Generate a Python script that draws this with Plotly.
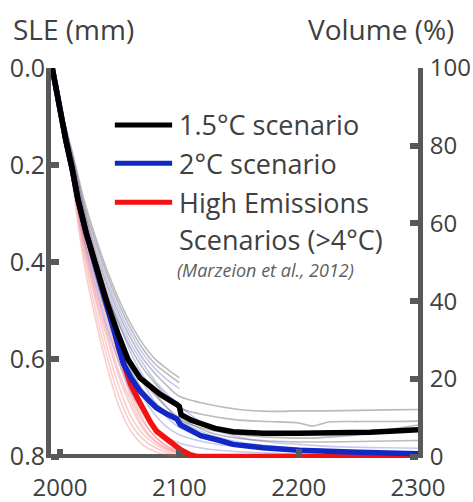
import plotly.graph_objects as go

# ---------------- data ----------------
years_black = [1993.5, 2000, 2005, 2010, 2015, 2022, 2030, 2039, 2049, 2057, 2067, 2084, 2098, 2100, 2101.5,
               2110, 2118, 2130, 2145, 2170, 2200, 2230, 2260, 2300]
sle_black = [0.0, 0.09, 0.15, 0.205, 0.27, 0.34, 0.41, 0.48, 0.55, 0.60, 0.638, 0.672, 0.693, 0.697, 0.714,
             0.725, 0.732, 0.742, 0.749, 0.752, 0.752, 0.752, 0.750, 0.745]

years_blue = [1993.5, 2000, 2005, 2010, 2015, 2022, 2030, 2039, 2045, 2050, 2053, 2060, 2067, 2075, 2081,
              2090, 2098, 2101, 2110, 2118, 2134, 2145, 2170, 2200, 2250, 2300]
sle_blue = [0.0, 0.09, 0.15, 0.205, 0.27, 0.34, 0.41, 0.48, 0.535, 0.585, 0.608, 0.64, 0.665, 0.686, 0.70,
            0.713, 0.723, 0.735, 0.748, 0.757, 0.767, 0.775, 0.782, 0.787, 0.791, 0.794]

years_red = [1993.5, 2000, 2005, 2010, 2015, 2022, 2030, 2039, 2045, 2049, 2055, 2059, 2065, 2070, 2076,
             2081, 2092, 2101, 2109, 2115, 2200, 2300]
sle_red = [0.0, 0.09, 0.15, 0.205, 0.27, 0.34, 0.41, 0.48, 0.53, 0.575, 0.62, 0.65, 0.68, 0.705, 0.73,
           0.748, 0.769, 0.786, 0.796, 0.8, 0.8, 0.8]

years_early = [2004, 2010, 2020, 2030, 2040, 2050, 2060, 2070, 2080, 2090, 2100]
years_late = [2125, 2150, 2175, 2200, 2212, 2225, 2250, 2275, 2300]
years_full = years_early + years_late

# 1.5°C ensemble members (grey)
grey_short = [
    [0.115, 0.17, 0.27, 0.35, 0.42, 0.48, 0.53, 0.57, 0.60, 0.62, 0.638],
    [0.115, 0.175, 0.28, 0.36, 0.43, 0.49, 0.54, 0.58, 0.61, 0.63, 0.648],
]
grey_long = [
    [0.115, 0.18, 0.29, 0.38, 0.45, 0.51, 0.56, 0.60, 0.63, 0.655, 0.676,
     0.693, 0.703, 0.707, 0.706, 0.706, 0.706, 0.705, 0.704, 0.703],
    [0.115, 0.19, 0.31, 0.40, 0.47, 0.53, 0.58, 0.62, 0.65, 0.678, 0.70,
     0.716, 0.725, 0.728, 0.731, 0.737, 0.729, 0.728, 0.728, 0.727],
    [0.115, 0.2, 0.33, 0.43, 0.51, 0.57, 0.625, 0.665, 0.69, 0.71, 0.725,
     0.745, 0.755, 0.76, 0.762, 0.762, 0.76, 0.755, 0.745, 0.735],
    [0.115, 0.19, 0.32, 0.42, 0.50, 0.56, 0.61, 0.645, 0.675, 0.70, 0.72,
     0.75, 0.763, 0.768, 0.77, 0.77, 0.77, 0.769, 0.768, 0.767],
]
# 2°C ensemble members (light blue)
blue_short = [
    [0.115, 0.18, 0.29, 0.37, 0.44, 0.50, 0.55, 0.59, 0.62, 0.642, 0.66],
]
blue_long = [
    [0.115, 0.19, 0.31, 0.40, 0.47, 0.53, 0.59, 0.635, 0.67, 0.70, 0.725,
     0.755, 0.77, 0.778, 0.783, 0.785, 0.787, 0.79, 0.792, 0.794],
    [0.115, 0.2, 0.33, 0.43, 0.51, 0.58, 0.635, 0.68, 0.715, 0.74, 0.755,
     0.772, 0.78, 0.785, 0.788, 0.789, 0.79, 0.792, 0.794, 0.796],
    [0.115, 0.19, 0.32, 0.42, 0.49, 0.55, 0.605, 0.65, 0.69, 0.72, 0.74,
     0.765, 0.775, 0.78, 0.784, 0.786, 0.787, 0.789, 0.79, 0.79],
    [0.115, 0.21, 0.35, 0.45, 0.54, 0.61, 0.67, 0.71, 0.74, 0.76, 0.772,
     0.785, 0.79, 0.793, 0.795, 0.796, 0.797, 0.798, 0.798, 0.798],
    [0.115, 0.185, 0.30, 0.39, 0.46, 0.52, 0.57, 0.61, 0.645, 0.672, 0.695,
     0.74, 0.76, 0.77, 0.775, 0.777, 0.779, 0.781, 0.782, 0.783],
]
# high-emission ensemble members (pink), to 2100
pink = [
    [0.115, 0.21, 0.36, 0.47, 0.56, 0.64, 0.70, 0.745, 0.77, 0.785, 0.792],
    [0.115, 0.22, 0.38, 0.50, 0.60, 0.68, 0.735, 0.765, 0.782, 0.792, 0.797],
    [0.115, 0.2, 0.34, 0.44, 0.53, 0.61, 0.68, 0.73, 0.76, 0.778, 0.788],
    [0.115, 0.23, 0.40, 0.52, 0.62, 0.70, 0.75, 0.777, 0.79, 0.796, 0.799],
    [0.115, 0.19, 0.32, 0.42, 0.51, 0.59, 0.66, 0.715, 0.75, 0.772, 0.785],
    [0.115, 0.2, 0.33, 0.43, 0.52, 0.60, 0.67, 0.725, 0.76, 0.78, 0.79],
    [0.115, 0.215, 0.37, 0.48, 0.58, 0.66, 0.72, 0.755, 0.775, 0.788, 0.794],
    [0.115, 0.2, 0.35, 0.46, 0.55, 0.63, 0.69, 0.74, 0.768, 0.783, 0.791],
    [0.115, 0.19, 0.31, 0.41, 0.50, 0.58, 0.65, 0.705, 0.745, 0.77, 0.785],
]

sle_ticks = [0.0, 0.2, 0.4, 0.6, 0.8]
vol_ticks = [0, 20, 40, 60, 80, 100]
year_ticks = [2000, 2100, 2200, 2300]

legend_names = ["1.5°C scenario", "2°C scenario", "High Emissions", "Scenarios (>4°C)"]
citation = "(Marzeion et al., 2012)"

# ---------------- styles ----------------
C_BLACK = "#000000"
C_BLUE = "#1228c4"
C_RED = "#f21212"
C_GREY_THIN = "rgba(120,120,120,0.5)"
C_BLUE_THIN = "rgba(90,100,215,0.35)"
C_PINK_THIN = "rgba(240,90,90,0.30)"
AX = "#595959"
TXT = "#404040"
FONT = "Open Sans"

fig = go.Figure()


def thin(x, y, color):
    fig.add_trace(go.Scatter(x=x, y=y, mode="lines", line=dict(color=color, width=1.6, shape="spline", smoothing=0.8),
                             hoverinfo="skip", showlegend=False))


for s in pink:
    thin(years_early, s, C_PINK_THIN)
for s in blue_short:
    thin(years_early, s, C_BLUE_THIN)
for s in blue_long:
    thin(years_full, s, C_BLUE_THIN)
for s in grey_short:
    thin(years_early, s, C_GREY_THIN)
for s in grey_long:
    thin(years_full, s, C_GREY_THIN)

fig.add_trace(go.Scatter(x=years_red, y=sle_red, mode="lines", line=dict(color=C_RED, width=5.5),
                         name="High Emissions Scenarios (>4°C)", showlegend=False))
fig.add_trace(go.Scatter(x=years_blue, y=sle_blue, mode="lines", line=dict(color=C_BLUE, width=5.5),
                         name="2°C scenario", showlegend=False))
fig.add_trace(go.Scatter(x=years_black, y=sle_black, mode="lines", line=dict(color=C_BLACK, width=5.5),
                         name="1.5°C scenario", showlegend=False))
# invisible trace so the volume axis is rendered
fig.add_trace(go.Scatter(x=[year_ticks[0]], y=[vol_ticks[-1]], yaxis="y2", mode="markers",
                         marker=dict(opacity=0), hoverinfo="skip", showlegend=False))

tickfont = dict(family=FONT, size=25, color=TXT)
xtickfont = dict(family=FONT, size=24, color=TXT)
rtickfont = dict(family=FONT, size=24, color=TXT)

fig.update_layout(
    width=473, height=502,
    margin=dict(l=51, r=55, t=68, b=44),
    paper_bgcolor="white", plot_bgcolor="white",
    showlegend=False,
    font=dict(family=FONT, color=TXT),
    xaxis=dict(range=[1992.46, 2300], tickvals=year_ticks, ticks="inside", ticklen=9, tickwidth=6,
               tickcolor=AX, showgrid=False, zeroline=False, showline=False, tickfont=xtickfont,
               ticklabelstandoff=13, automargin=False),
    yaxis=dict(range=[0.803, 0], tickvals=sle_ticks, tickformat=".1f", ticks="inside", ticklen=8,
               tickwidth=6, tickcolor=AX, showgrid=False, zeroline=False, showline=True, linecolor=AX,
               linewidth=5, tickfont=tickfont, ticklabelstandoff=-4, automargin=False),
    yaxis2=dict(range=[-0.375, 100], tickvals=vol_ticks, overlaying="y", side="right", anchor="x",
                ticks="inside", ticklen=8, tickwidth=6, tickcolor=AX, showgrid=False, zeroline=False,
                showline=True, linecolor=AX, linewidth=5, tickfont=rtickfont, ticklabelstandoff=2,
                automargin=False),
)

# bottom axis line, drawn beneath the curves
fig.add_shape(type="line", xref="paper", x0=0, x1=1, yref="y", y0=sle_ticks[-1], y1=sle_ticks[-1],
              line=dict(color=AX, width=5), layer="below")

# axis titles
fig.add_annotation(text="SLE (mm)", xref="paper", yref="paper", x=-0.108, y=1.1, xanchor="left",
                   yanchor="middle", showarrow=False, font=dict(family=FONT, size=28, color=TXT))
fig.add_annotation(text="Volume (%)", xref="paper", yref="paper", x=1.103, y=1.1, xanchor="right",
                   yanchor="middle", showarrow=False, font=dict(family=FONT, size=28, color=TXT))

# legend (line samples + labels)
leg_colors = [C_BLACK, C_BLUE, C_RED]
leg_y = [0.854, 0.756, 0.656, 0.559]
for i, c in enumerate(leg_colors):
    fig.add_shape(type="line", xref="paper", yref="paper", x0=0.174, x1=0.33, y0=leg_y[i], y1=leg_y[i],
                  line=dict(color=c, width=5))
for i, name in enumerate(legend_names):
    fig.add_annotation(text=name, xref="paper", yref="paper", x=0.342, y=leg_y[i], xanchor="left",
                       yanchor="middle", showarrow=False, font=dict(family=FONT, size=27, color=TXT))
fig.add_annotation(text="<i>" + citation + "</i>", xref="paper", yref="paper", x=0.338, y=0.482,
                   xanchor="left", yanchor="middle", showarrow=False,
                   font=dict(family=FONT, size=18, color="#606060"))

fig.write_html("out.html", config={"displayModeBar": False},
               post_script="document.body.style.margin='0px';document.body.style.overflow='hidden';")
